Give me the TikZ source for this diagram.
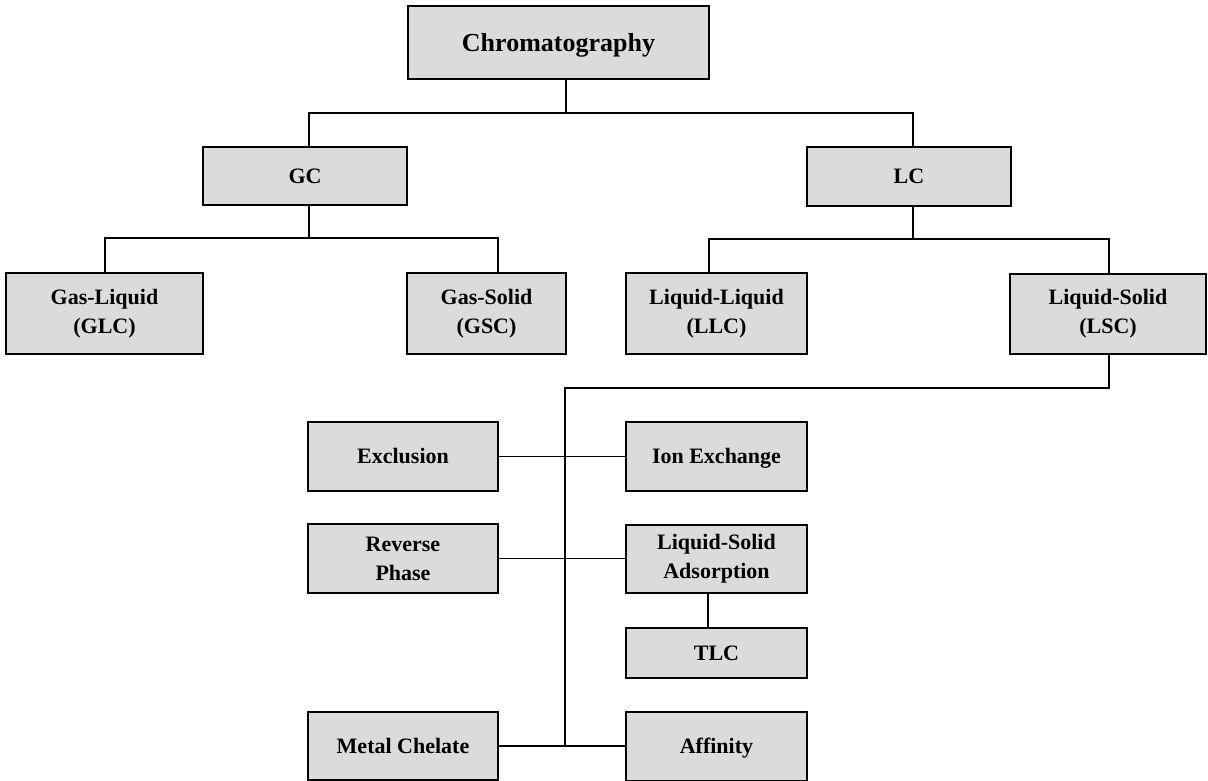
\documentclass[tikz,border=0pt]{standalone}
\usepackage{fontspec}
\setmainfont{Liberation Serif}
\begin{document}
\begin{tikzpicture}[x=1pt,y=-1pt,
  box/.style={draw=black, line width=2pt, fill=black!14, inner sep=0pt, align=center,
    font=\bfseries\fontsize{22}{29}\selectfont},
  one/.style={text height=14.6pt, text depth=0pt},
  conn/.style={draw=black, line width=1.4pt}]
\useasboundingbox (0,0) rectangle (1208,781);
% nodes
\node[box, minimum width=301pt, minimum height=73pt, font=\bfseries\fontsize{26}{31}\selectfont, text height=17.2pt, text depth=0pt] (chrom) at (558.5,42.5) {Chromatography};
\node[box, one, minimum width=204pt, minimum height=58pt] (gc) at (305,176) {GC};
\node[box, one, minimum width=204pt, minimum height=58pt] (lc) at (909,176.5) {LC};
\node[box, minimum width=197pt, minimum height=81pt] (glc) at (104.5,313.5) {Gas-Liquid\\(GLC)};
\node[box, minimum width=159pt, minimum height=81pt] (gsc) at (486.5,313.5) {Gas-Solid\\(GSC)};
\node[box, minimum width=181pt, minimum height=81pt] (llc) at (716.5,313.5) {Liquid-Liquid\\(LLC)};
\node[box, minimum width=196pt, minimum height=80pt] (lsc) at (1108,314) {Liquid-Solid\\(LSC)};
\node[box, one, minimum width=190pt, minimum height=69pt] (excl) at (403,456.5) {Exclusion};
\node[box, one, minimum width=181pt, minimum height=69pt] (ionx) at (716.5,456.5) {Ion Exchange};
\node[box, minimum width=190pt, minimum height=69pt] (rev) at (403,558.5) {Reverse\\Phase};
\node[box, minimum width=181pt, minimum height=68pt] (lsa) at (716.5,559) {Liquid-Solid\\Adsorption};
\node[box, one, minimum width=181pt, minimum height=50pt] (tlc) at (716.5,653) {TLC};
\node[box, one, minimum width=190pt, minimum height=68pt] (metal) at (403,746) {Metal Chelate};
\node[box, one, minimum width=181pt, minimum height=69pt] (aff) at (716.5,746.5) {Affinity};
% junctions
\coordinate (t1) at (566,113);
\coordinate (a1) at (309,113);
\coordinate (a2) at (913,113);
\coordinate (b0) at (309,238);
\coordinate (b1) at (105,238);
\coordinate (b2) at (498,238);
\coordinate (c0) at (913,239);
\coordinate (c1) at (709,239);
\coordinate (c2) at (1109,239);
\coordinate (d1) at (1109,388);
\coordinate (d0) at (565,388);
\coordinate (d2) at (565,746);
\coordinate (e1) at (708,600);
% connectors
\draw[conn] (chrom.south -| t1) -- (t1);
\draw[conn] (gc.north -| a1) -- (a1) -- (a2) -- (lc.north -| a2);
\draw[conn] (gc.south -| b0) -- (b0);
\draw[conn] (glc.north -| b1) -- (b1) -- (b2) -- (gsc.north -| b2);
\draw[conn] (lc.south -| c0) -- (c0);
\draw[conn] (llc.north -| c1) -- (c1) -- (c2) -- (lsc.north -| c2);
\draw[conn] (lsc.south -| d1) -- (d1) -- (d0) -- (d2);
\draw[conn] (excl.east) -- (excl.east -| ionx.west);
\draw[conn] (rev.east) -- (rev.east -| lsa.west);
\draw[conn] (metal.east) -- (metal.east -| aff.west);
\draw[conn] (lsa.south -| e1) -- (tlc.north -| e1);
\end{tikzpicture}
\end{document}
